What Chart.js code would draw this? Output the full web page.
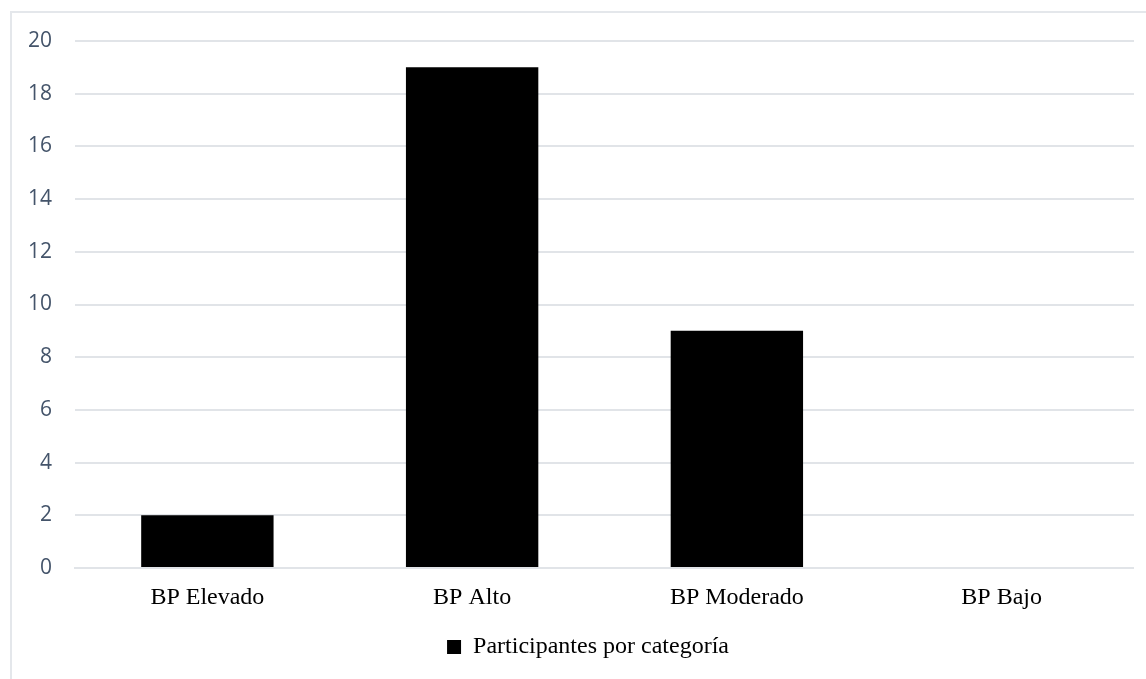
<!DOCTYPE html>
<html>
<head>
<meta charset="utf-8">
<script src="https://cdn.jsdelivr.net/npm/chart.js@4/dist/chart.umd.min.js"></script>
<style>
  html, body { margin: 0; padding: 0; background: #fff; overflow: hidden; }
  body { width: 1146px; height: 679px; position: relative; }
  /* light frame around the chart (right/bottom edges fall outside the picture) */
  #frame {
    position: absolute; left: 10px; top: 11px;
    width: 1300px; height: 800px;
    border: 2px solid #e4e7eb;
  }
  #chart { position: absolute; left: 0; top: 0; }
</style>
</head>
<body>
<div id="frame"></div>
<canvas id="chart" width="1134" height="679"></canvas>
<script>
// Data
const categories  = ['BP Elevado', 'BP Alto', 'BP Moderado', 'BP Bajo'];
const participants = [2, 19, 9, 0];
const seriesLabel = 'Participantes por categoría';
const yMin = 0;
const yMax = 20;
const yStep = 2;

const serif = '"Liberation Serif", "Times New Roman", serif';
const sans  = '"Open Sans", "Noto Sans", sans-serif';
const gridColor = '#e1e4e8';

// The Excel legend is centred on the whole (wider) chart frame, not the canvas,
// so nudge the legend box a bit to the right after layout.
const legendShift = {
    id: 'legendShift',
    afterLayout(chart) {
        const lg = chart.legend;
        if (!lg) return;
        lg.left += 21;
        lg.right += 21;
    }
};

new Chart(document.getElementById('chart'), {
    type: 'bar',
    data: {
        labels: categories,
        datasets: [{
            label: seriesLabel,
            data: participants,
            backgroundColor: '#000000',
            borderWidth: 0,
            barPercentage: 0.5,
            categoryPercentage: 1
        }]
    },
    options: {
        responsive: false,
        animation: false,
        layout: { padding: { left: 0, top: 41, right: 0, bottom: 10 } },
        plugins: {
            tooltip: { enabled: false },
            legend: {
                position: 'bottom',
                labels: {
                    color: '#000',
                    boxWidth: 14,
                    boxHeight: 14,
                    padding: 10,
                    font: { family: serif, size: 24 }
                }
            }
        },
        scales: {
            x: {
                grid: { display: false, drawTicks: false },
                border: { display: true, color: gridColor, width: 2 },
                ticks: {
                    color: '#000',
                    padding: 15,
                    font: { family: serif, size: 24 }
                },
                afterFit: axis => { axis.height = 57; }
            },
            y: {
                min: yMin,
                max: yMax,
                grid: { color: gridColor, lineWidth: 2, drawTicks: false },
                border: { display: false },
                ticks: {
                    stepSize: yStep,
                    color: '#44546a',
                    padding: 23,
                    font: { family: sans, size: 21 }
                },
                afterFit: axis => { axis.width = 75; }
            }
        }
    },
    plugins: [legendShift]
});
</script>
</body>
</html>
